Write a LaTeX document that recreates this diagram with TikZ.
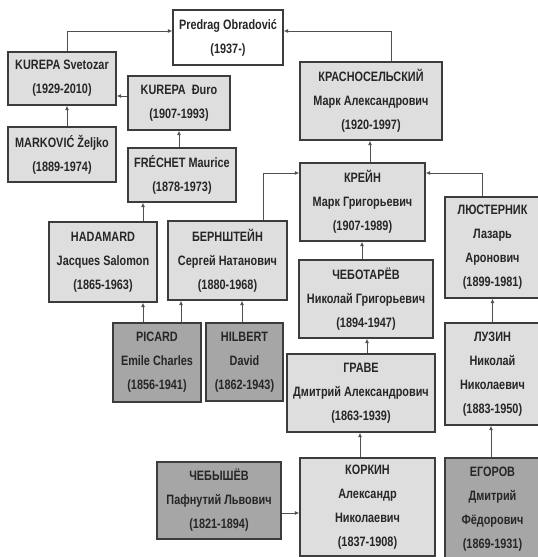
\documentclass[tikz,border=0pt]{standalone}
\usepackage{fontspec}
\setmainfont{Liberation Sans}[FakeStretch=0.8]
\usetikzlibrary{arrows.meta}
\definecolor{lightfill}{HTML}{DEDEDE}
\definecolor{darkfill}{HTML}{A6A6A6}
\definecolor{edge}{HTML}{3C3C3C}
\definecolor{wire}{HTML}{505050}
\tikzset{
  person/.style={draw=edge, line width=1.3pt, fill=lightfill, align=center, inner sep=0pt,
    font=\bfseries\fontsize{13.6}{24}\selectfont, text=black!85},
  elder/.style={person, fill=darkfill},
  root/.style={person, fill=white},
  arr/.style={draw=wire, line width=1pt, -{Latex[length=4.5pt,width=4pt]}}
}
\begin{document}
\begin{tikzpicture}[x=1pt,y=-1pt]
\useasboundingbox (0,0) rectangle (538,557);
\clip (0,0) rectangle (538,557);
\node[root, minimum width=110, minimum height=55] (pred) at (228,37.5) {Predrag Obradović\\(1937-)};
\node[person, minimum width=108, minimum height=53] (svet) at (62,78.5) {KUREPA Svetozar\\(1929-2010)};
\node[person, minimum width=102, minimum height=54] (duro) at (179,103) {KUREPA\ \ Đuro\\(1907-1993)};
\node[person, minimum width=108, minimum height=55] (mark) at (62,154.5) {MARKOVIĆ Željko\\(1889-1974)};
\node[person, minimum width=108, minimum height=54] (frech) at (182,175) {FRÉCHET Maurice\\(1878-1973)};
\node[person, minimum width=142, minimum height=78] (kras) at (371,101) {КРАСНОСЕЛЬСКИЙ\\Марк Александрович\\(1920-1997)};
\node[person, minimum width=125, minimum height=78] (krejn) at (362.5,202) {КРЕЙН\\Марк Григорьевич\\(1907-1989)};
\node[person, minimum width=95, minimum height=101] (lust) at (492.5,247.5) {ЛЮСТЕРНИК\\Лазарь\\Аронович\\(1899-1981)};
\node[person, minimum width=134, minimum height=78] (cheb) at (366,299) {ЧЕБОТАРЁВ\\Николай Григорьевич\\(1894-1947)};
\node[person, minimum width=148, minimum height=78] (grave) at (361,393) {ГРАВЕ\\Дмитрий Александрович\\(1863-1939)};
\node[person, minimum width=95, minimum height=102] (luzin) at (492.5,374) {ЛУЗИН\\Николай\\Николаевич\\(1883-1950)};
\node[person, minimum width=135, minimum height=98] (korkin) at (367.5,507) {КОРКИН\\Александр\\Николаевич\\(1837-1908)};
\node[elder, minimum width=95, minimum height=102] (egorov) at (492.5,509) {ЕГОРОВ\\Дмитрий\\Фёдорович\\(1869-1931)};
\node[elder, minimum width=124, minimum height=77] (chebysh) at (219,500.5) {ЧЕБЫШЁВ\\Пафнутий Львович\\(1821-1894)};
\node[person, minimum width=108, minimum height=80] (hadam) at (103,262) {HADAMARD\\Jacques Salomon\\(1865-1963)};
\node[person, minimum width=119, minimum height=79] (bern) at (227.5,260.5) {БЕРНШТЕЙН\\Сергей Натанович\\(1880-1968)};
\node[elder, minimum width=88, minimum height=79] (picard) at (157,362.5) {PICARD\\Emile Charles\\(1856-1941)};
\node[elder, minimum width=77, minimum height=78] (hilbert) at (244.5,362) {HILBERT\\David\\(1862-1943)};

\draw[arr] ([xshift=5pt]svet.north) |- ([yshift=6.5pt]pred.west);
\draw[arr] ([xshift=20pt]kras.north) |- ([yshift=6.5pt]pred.east);
\draw[arr] ([yshift=7pt]duro.west) -- ([yshift=-17.5pt]svet.east);
\draw[arr] ([xshift=5pt]mark.north) -- ([xshift=5pt]svet.south);
\draw[arr] ([xshift=-3pt]frech.north) -- (duro.south);
\draw[arr] ([xshift=40pt]hadam.north) -- ([xshift=-39pt]frech.south);
\draw[arr] ([xshift=35.5pt]bern.north) |- ([yshift=29pt]krejn.west);
\draw[arr] ([xshift=7.5pt]krejn.north) -- ([xshift=-1pt]kras.south);
\draw[arr] ([xshift=-10.5pt]lust.north) |- ([yshift=29pt]krejn.east);
\draw[arr] ([xshift=-4pt]cheb.north) -- ([xshift=-0.5pt]krejn.south);
\draw[arr] ([xshift=6pt]grave.north) -- ([xshift=1pt]cheb.south);
\draw[arr] ([xshift=-7.5pt]korkin.north) -- ([xshift=-1pt]grave.south);
\draw[arr] (luzin.north) -- (lust.south);
\draw[arr] ([xshift=-1.5pt]egorov.north) -- ([xshift=-1.5pt]luzin.south);
\draw[arr] ([xshift=-14pt]picard.north) -- ([xshift=40pt]hadam.south);
\draw[arr] ([xshift=24pt]picard.north) -- ([xshift=-46.5pt]bern.south);
\draw[arr] ([xshift=-2.5pt]hilbert.north) -- ([xshift=14.5pt]bern.south);
\draw[arr] ([yshift=-12.5pt]chebysh.east) -- ([yshift=-6pt]korkin.west);
\end{tikzpicture}
\end{document}
